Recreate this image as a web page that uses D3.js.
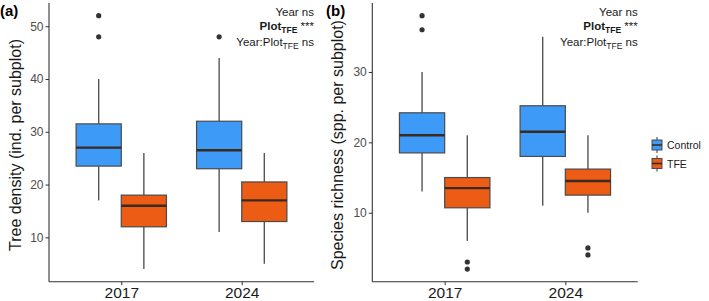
<!DOCTYPE html>
<html><head><meta charset="utf-8">
<script src="https://cdn.jsdelivr.net/npm/d3@7"></script>
<style>body{margin:0;background:#fff;} svg{display:block;font-family:"Liberation Sans",Arial,sans-serif;}</style>
</head><body><svg id="c" width="709" height="301"></svg>
<script>
const years = ["2017", "2024"];
const groups = ["Control", "TFE"];
const colors = ["#3d9af7", "#ec5c15"];
// [lowerWhisker, Q1, median, Q3, upperWhisker]
const densityControl = [[17, 23.5, 27, 31.5, 40], [11, 23, 26.5, 32, 44]];
const densityTFE = [[4, 12, 16, 18, 26], [5, 13, 17, 20.5, 26]];
const densityOutControl = [[52, 48], [48]];
const densityOutTFE = [[], []];
const richControl = [[13, 18.5, 21, 24.2, 30], [11, 18, 21.5, 25.2, 35]];
const richTFE = [[6, 10.7, 13.5, 15, 21], [10, 12.5, 14.5, 16.2, 21]];
const richOutControl = [[38, 36], []];
const richOutTFE = [[3, 2], [5, 4]];
const densityTicks = [10, 20, 30, 40, 50];
const richTicks = [10, 20, 30];

const svg = d3.select("#c");
const axisCol = "#333";

function panel(opt) {
  const g = svg.append("g");
  const unit = (opt.x1 - opt.x0) / 2.2;
  const xc = d => opt.x0 + unit * (0.6 + years.indexOf(d));
  const y = d3.scaleLinear().domain(opt.domain).range([281.7, 3]);
  const bw = unit * 0.375;
  const series = [opt.ctrl, opt.tfe];
  const outs = [opt.outC, opt.outT];
  series.forEach((s, gi) => {
    years.forEach((yr, i) => {
      const st = s[i];
      const cx = xc(yr) + (gi === 0 ? -bw / 2 : bw / 2);
      g.append("line").attr("x1", cx).attr("x2", cx).attr("y1", y(st[4])).attr("y2", y(st[3]))
        .attr("stroke", "#555").attr("stroke-width", 1.4);
      g.append("line").attr("x1", cx).attr("x2", cx).attr("y1", y(st[1])).attr("y2", y(st[0]))
        .attr("stroke", "#555").attr("stroke-width", 1.4);
      g.append("rect").attr("x", cx - bw / 2).attr("width", bw).attr("y", y(st[3])).attr("height", y(st[1]) - y(st[3]))
        .attr("fill", colors[gi]).attr("stroke", "#4a4a4a").attr("stroke-width", 1.2);
      g.append("line").attr("x1", cx - bw / 2).attr("x2", cx + bw / 2).attr("y1", y(st[2])).attr("y2", y(st[2]))
        .attr("stroke", "#3a2a22").attr("stroke-width", 2.4);
      outs[gi][i].forEach(v => {
        g.append("circle").attr("cx", cx).attr("cy", y(v)).attr("r", 2.6).attr("fill", "#333");
      });
    });
  });
  const ya = d3.axisLeft(y).tickValues(opt.ticks).tickSize(3.5).tickPadding(2);
  const yg = g.append("g").attr("transform", `translate(${opt.x0},0)`).call(ya);
  yg.select(".domain").attr("stroke", axisCol).attr("stroke-width", 1.1).attr("d", `M0,${y.range()[1]}V${y.range()[0]}`);
  yg.selectAll(".tick line").attr("stroke", axisCol);
  yg.selectAll(".tick text").attr("fill", "#4d4d4d").style("font-size", "12px");
  const xs = d3.scalePoint().domain(years).range([xc("2017"), xc("2024")]);
  const xa = d3.axisBottom(xs).tickSize(3.5).tickPadding(1.5);
  const xg = g.append("g").attr("transform", `translate(0,281.7)`).call(xa);
  xg.select(".domain").attr("stroke", axisCol).attr("stroke-width", 1.1).attr("d", `M${opt.x0},0H${opt.x1}`);
  xg.selectAll(".tick line").attr("stroke", axisCol);
  xg.selectAll(".tick text").attr("fill", "#1a1a1a").style("font-size", "15.5px");
  g.append("text").attr("transform", `translate(${opt.titleX},${opt.titleY}) rotate(-90)`).attr("text-anchor", "middle")
    .attr("dominant-baseline", "central").style("font-size", "16px").attr("fill", "#1a1a1a").text(opt.title);
  g.append("text").attr("x", opt.labX).attr("y", 16).style("font-size", "15px").style("font-weight", "bold").text(opt.label);
  const ax = opt.x1;
  const t1 = g.append("text").attr("x", ax).attr("y", 16).attr("text-anchor", "end").style("font-size", "11.5px").attr("fill", "#1a1a1a");
  t1.append("tspan").text("Year ns");
  const t2 = g.append("text").attr("x", ax).attr("y", 29.5).attr("text-anchor", "end").style("font-size", "11.5px").attr("fill", "#1a1a1a");
  t2.append("tspan").style("font-weight", "bold").text("Plot");
  t2.append("tspan").style("font-weight", "bold").style("font-size", "8.5px").attr("dy", 3).text("TFE");
  t2.append("tspan").attr("dy", -3).text(" ***");
  const t3 = g.append("text").attr("x", ax).attr("y", 45.5).attr("text-anchor", "end").style("font-size", "11.5px").attr("fill", "#1a1a1a");
  t3.append("tspan").text("Year:Plot");
  t3.append("tspan").style("font-size", "8.5px").attr("dy", 3).text("TFE");
  t3.append("tspan").attr("dy", -3).text(" ns");
}

panel({x0: 49, x1: 314, domain: [1.6, 54.4], ctrl: densityControl, tfe: densityTFE, outC: densityOutControl, outT: densityOutTFE,
  ticks: densityTicks, title: "Tree density  (ind. per subplot)", titleX: 15.5, titleY: 145, label: "(a)", labX: 0});
panel({x0: 372.3, x1: 637.7, domain: [0.2, 39.8], ctrl: richControl, tfe: richTFE, outC: richOutControl, outT: richOutTFE,
  ticks: richTicks, title: "Species richness (spp. per subplot)", titleX: 337.5, titleY: 145, label: "(b)", labX: 326});

const leg = svg.append("g");
groups.forEach((gname, i) => {
  const cy = 145 + i * 18.5;
  const kx = 657;
  leg.append("line").attr("x1", kx).attr("x2", kx).attr("y1", cy - 8).attr("y2", cy + 8).attr("stroke", "#555").attr("stroke-width", 1.2);
  leg.append("rect").attr("x", kx - 5).attr("y", cy - 5).attr("width", 10).attr("height", 10).attr("fill", colors[i]).attr("stroke", "#4a4a4a").attr("stroke-width", 1);
  leg.append("line").attr("x1", kx - 5).attr("x2", kx + 5).attr("y1", cy).attr("y2", cy).attr("stroke", "#3a2a22").attr("stroke-width", 1.6);
  leg.append("text").attr("x", 667).attr("y", cy).attr("dominant-baseline", "central").style("font-size", "10.5px").attr("fill", "#1a1a1a").text(gname);
});
</script></body></html>
